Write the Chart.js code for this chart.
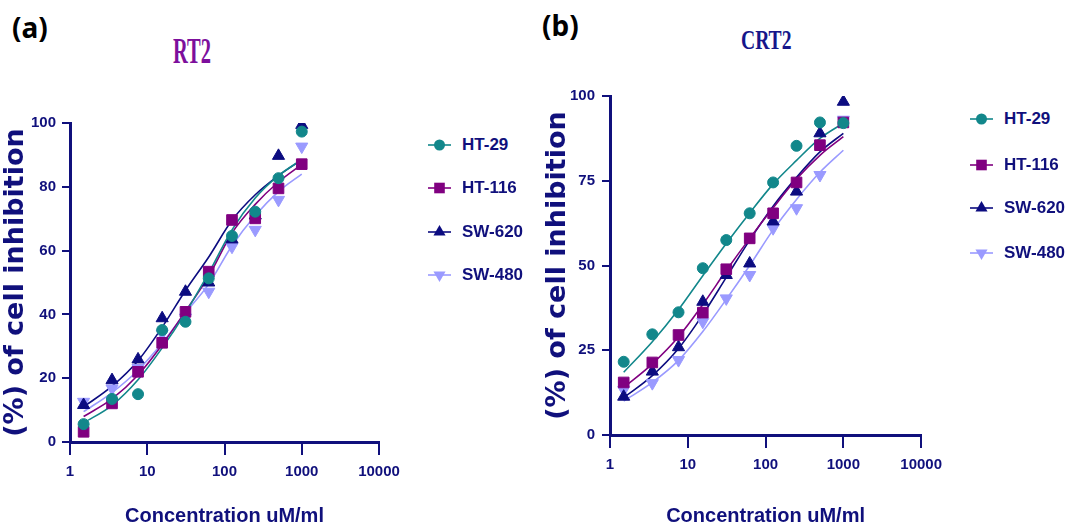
<!DOCTYPE html>
<html>
<head>
<meta charset="utf-8">
<script src="https://cdn.jsdelivr.net/npm/chart.js@4.4.1/dist/chart.umd.min.js"></script>
<style>
    html, body { margin: 0; padding: 0; background: #fff; }
    #page { position: relative; width: 1070px; height: 528px; overflow: hidden; background: #fff; }
    .panel { position: absolute; top: 0; width: 410px; height: 528px; }
    .tag { position: absolute; font: bold 28px 'Noto Sans', sans-serif; color: #000; line-height: 1; }
    .title { position: absolute; font-family: 'Liberation Serif', 'Times New Roman', serif; font-weight: bold; line-height: 1; transform-origin: 0 0; white-space: nowrap; }
    .legend { position: absolute; }
    .legend .item { position: absolute; left: 0; height: 20px; display: flex; align-items: center; white-space: nowrap; }
    .legend canvas { margin-right: 11px; }
    .legend span { font: bold 17px 'Liberation Sans', Arial, sans-serif; color: #10107c; }
</style>
</head>
<body>
<div id="page">
    <div class="tag" style="left:12px; top:13px;">(a)</div>
    <div class="tag" style="left:542px; top:11px;">(b)</div>
    <div class="title" style="left:173px; top:33px; font-size:36px; color:#7d0f9c; transform:scaleX(0.57);">RT2</div>
    <div class="title" style="left:741px; top:26px; font-size:28px; color:#16168a; transform:scaleX(0.7);">CRT2</div>

    <div class="panel" style="left:0;"><canvas id="chartRT2" width="410" height="528"></canvas></div>
    <div class="panel" style="left:540px;"><canvas id="chartCRT2" width="410" height="528"></canvas></div>

    <div class="legend" id="legendRT2" style="left:428px; top:0;"></div>
    <div class="legend" id="legendCRT2" style="left:970px; top:0;"></div>
</div>

<script>
// Data: konsentrasi (uM/ml) dan % inhibisi sel
const concentrations = [1.5, 3.5, 7.6, 15.6, 31.25, 62.5, 125, 250, 500, 1000];
const cellLines = ['HT-29', 'HT-116', 'SW-620', 'SW-480'];
const xTickValues = [1, 10, 100, 1000, 10000];
const yTicksRT2 = [0, 20, 40, 60, 80, 100];
const yTicksCRT2 = [0, 25, 50, 75, 100];

// RT2 - titik pengukuran
const rt2HT29 = [5.6, 13.5, 15, 35.1, 37.7, 51.3, 64.6, 72.2, 82.7, 97.3];
const rt2HT116 = [3.2, 12.1, 22, 31.1, 40.8, 53.4, 69.6, 70.1, 79.5, 87.1];
const rt2SW620 = [11.6, 19.4, 25.9, 38.8, 47.1, 50, 63.5, 71, 89.7, 99.4];
const rt2SW480 = [12.6, 16.8, 23.2, 34, 39, 47.1, 61.2, 66.5, 75.9, 92.6];
// RT2 - kurva fit
const rt2FitHT29 = [6, 11.5, 19.5, 29.5, 40.5, 53, 66.5, 76.5, 83.5, 88.5];
const rt2FitHT116 = [8, 13.5, 21, 30.5, 41, 52, 65.5, 74.5, 81.5, 87];
const rt2FitSW620 = [11, 17.5, 25.5, 36, 47.5, 58, 69.5, 77.5, 83.5, 88.5];
const rt2FitSW480 = [9.5, 15.5, 22.5, 31, 40.5, 49.5, 61.5, 71, 78.5, 84];

// CRT2 - titik pengukuran
const crt2HT29 = [21.6, 29.7, 36.2, 49.2, 57.5, 65.4, 74.5, 85.3, 92.2, 92];
const crt2HT116 = [15.5, 21.4, 29.5, 36.1, 48.9, 58, 65.4, 74.5, 85.5, 92.2];
const crt2SW620 = [11.3, 18.7, 25.9, 39.3, 47.2, 50.6, 63, 71.8, 89, 98.3];
const crt2SW480 = [13.3, 15.3, 22.1, 33.4, 40.3, 47.2, 61, 66.9, 76.7, 93];
// CRT2 - kurva fit
const crt2FitHT29 = [18.5, 27.5, 37, 47, 56.5, 65.5, 74, 81, 87.5, 92];
const crt2FitHT116 = [14, 21, 29, 38.5, 48.5, 58, 67, 75.5, 82.5, 88];
const crt2FitSW620 = [11, 17.5, 25.5, 35.5, 46.5, 57.5, 67.5, 76, 83.5, 89];
const crt2FitSW480 = [10, 15.5, 22, 30.5, 40, 50, 60.5, 69.5, 77.5, 84];

// Gaya
const seriesColors = ['#12878b', '#800080', '#0c0c80', '#9a9aff'];
const markerStyles = ['circle', 'rect', 'triangle', 'triangle'];
const markerRotation = [0, 0, 0, 180];
const markerRadius = [5.5, 7.5, 7, 7];
const axisColor = '#10107c';
const sansFont = "'Liberation Sans', Arial, sans-serif";

function buildDatasets(measured, fitted) {
    const sets = [];
    cellLines.forEach((name, i) => {
        sets.push({
            label: name,
            data: concentrations.map((c, j) => ({ x: c, y: measured[i][j] })),
            showLine: false,
            pointStyle: markerStyles[i],
            rotation: markerRotation[i],
            pointRadius: markerRadius[i],
            pointBorderWidth: 1,
            backgroundColor: seriesColors[i],
            borderColor: seriesColors[i],
            order: 1
        });
    });
    cellLines.forEach((name, i) => {
        sets.push({
            label: name + ' fit',
            data: concentrations.map((c, j) => ({ x: c, y: fitted[i][j] })),
            showLine: true,
            pointRadius: 0,
            borderColor: seriesColors[i],
            borderWidth: 1.6,
            cubicInterpolationMode: 'monotone',
            order: 2
        });
    });
    return sets;
}

function buildChart(canvasId, datasets, yTicks, opts) {
    const ctx = document.getElementById(canvasId);
    return new Chart(ctx, {
        type: 'scatter',
        data: { datasets: datasets },
        options: {
            responsive: false,
            animation: false,
            devicePixelRatio: 1,
            layout: { padding: { top: opts.top, right: opts.right, left: 0, bottom: 0 } },
            plugins: { legend: { display: false }, tooltip: { enabled: false } },
            scales: {
                x: {
                    type: 'logarithmic',
                    min: xTickValues[0],
                    max: xTickValues[xTickValues.length - 1],
                    afterBuildTicks: s => { s.ticks = xTickValues.map(v => ({ value: v })); },
                    afterFit: s => { s.height = opts.xHeight; },
                    ticks: {
                        autoSkip: false, maxRotation: 0, padding: 8,
                        color: axisColor,
                        font: { family: sansFont, weight: 'bold', size: 15 },
                        callback: v => String(v)
                    },
                    grid: { drawOnChartArea: false, drawTicks: true, tickLength: 13, color: axisColor, lineWidth: 2 },
                    border: { display: true, color: axisColor, width: 3 },
                    title: {
                        display: true, text: 'Concentration uM/ml', color: axisColor,
                        font: { family: sansFont, weight: 'bold', size: 20 }, padding: 0
                    }
                },
                y: {
                    type: 'linear',
                    min: yTicks[0],
                    max: yTicks[yTicks.length - 1],
                    afterBuildTicks: s => { s.ticks = yTicks.map(v => ({ value: v })); },
                    afterFit: s => { s.width = 70; },
                    ticks: {
                        padding: opts.yPad,
                        color: axisColor,
                        font: { family: sansFont, weight: 'bold', size: 15 }
                    },
                    grid: { drawOnChartArea: false, drawTicks: true, tickLength: 8, color: axisColor, lineWidth: 2 },
                    border: { display: true, color: axisColor, width: 3 },
                    title: {
                        display: true, text: '(%) of cell inhibition', color: axisColor,
                        font: { family: "'DejaVu Sans', sans-serif", weight: 'bold', size: 27 },
                        padding: { top: opts.titlePad, bottom: 0 }
                    }
                }
            }
        }
    });
}

// Legenda HTML: garis + penanda, teks asli
function drawMarker(c, i, x, y) {
    c.fillStyle = seriesColors[i];
    const r = markerRadius[i];
    c.beginPath();
    if (markerStyles[i] === 'circle') {
        c.arc(x, y, r, 0, Math.PI * 2);
    } else if (markerStyles[i] === 'rect') {
        const h = r * Math.SQRT1_2;
        c.rect(x - h, y - h, 2 * h, 2 * h);
    } else {
        const dir = markerRotation[i] === 180 ? -1 : 1;
        c.moveTo(x, y - dir * r);
        c.lineTo(x + r * 0.866, y + dir * r * 0.5);
        c.lineTo(x - r * 0.866, y + dir * r * 0.5);
        c.closePath();
    }
    c.fill();
}

function buildLegend(id, rows) {
    const box = document.getElementById(id);
    cellLines.forEach((name, i) => {
        const item = document.createElement('div');
        item.className = 'item';
        item.style.top = (rows[i] - 10) + 'px';
        const icon = document.createElement('canvas');
        icon.width = 23; icon.height = 20;
        const c = icon.getContext('2d');
        c.strokeStyle = seriesColors[i];
        c.lineWidth = 1.6;
        c.beginPath(); c.moveTo(0, 10); c.lineTo(23, 10); c.stroke();
        drawMarker(c, i, 11.5, 10);
        const label = document.createElement('span');
        label.textContent = name;
        item.appendChild(icon);
        item.appendChild(label);
        box.appendChild(item);
    });
}

buildChart('chartRT2',
    buildDatasets([rt2HT29, rt2HT116, rt2SW620, rt2SW480], [rt2FitHT29, rt2FitHT116, rt2FitSW620, rt2FitSW480]),
    yTicksRT2, { top: 123, right: 31, xHeight: 86, yPad: 6, titlePad: 0 });

buildChart('chartCRT2',
    buildDatasets([crt2HT29, crt2HT116, crt2SW620, crt2SW480], [crt2FitHT29, crt2FitHT116, crt2FitSW620, crt2FitSW480]),
    yTicksCRT2, { top: 96, right: 28, xHeight: 93, yPad: 7, titlePad: 2 });

buildLegend('legendRT2', [145, 188, 232, 275]);
buildLegend('legendCRT2', [119, 165, 208, 253]);
</script>
</body>
</html>
